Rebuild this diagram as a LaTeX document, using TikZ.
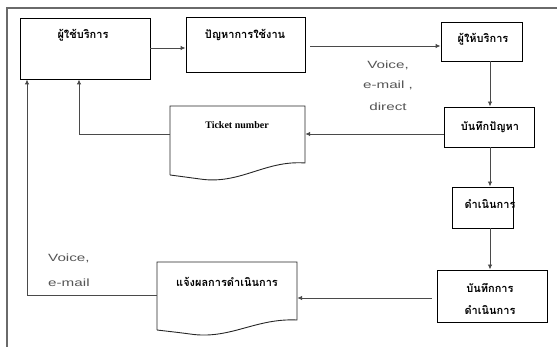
\documentclass[tikz,border=0pt]{standalone}
\usepackage{fontspec}
\setmainfont{Liberation Serif}
\newfontfamily\thaifont[Script=Thai]{Loma}
\newfontfamily\medfont[FakeStretch=1.45]{Liberation Sans}
\usetikzlibrary{arrows.meta,calc}

\definecolor{linegray}{HTML}{4A4A4A}
\definecolor{framegray}{HTML}{6A6A6A}
\definecolor{labelgray}{HTML}{555555}

\tikzset{
  box/.style={draw=black, line width=0.9pt, inner sep=0pt},
  doc/.style={inner sep=0pt},
  thai/.style={font=\thaifont\bfseries\fontsize{11}{13}\selectfont, inner sep=0pt},
  ticket/.style={font=\bfseries\fontsize{10}{12}\selectfont, inner sep=0pt},
  medium/.style={font=\medfont\fontsize{10.5}{12}\selectfont, text=labelgray, inner sep=0pt},
  flow/.style={draw=linegray, line width=0.9pt, -{Latex[length=5pt,width=4.5pt]}},
  docline/.style={draw=black!85, line width=0.9pt}
}

\begin{document}
\begin{tikzpicture}[x=1pt,y=-1pt]
\useasboundingbox (0,0) rectangle (557,347);

% open frame: top and left rule
\draw[framegray, line width=1.4pt] (557,8) -- (7,8) -- (7,347);

% process boxes
\node[box, minimum width=130pt, minimum height=61pt] (user) at (85,48.5) {};
\node[box, minimum width=119pt, minimum height=55pt] (prob) at (245.5,44.5) {};
\node[box, minimum width=81pt, minimum height=39pt] (prov) at (481.5,41.5) {};
\node[box, minimum width=90pt, minimum height=40pt] (rec) at (489,127) {};
\node[box, minimum width=61pt, minimum height=41pt] (act) at (482.5,207.5) {};
\node[box, minimum width=110pt, minimum height=52pt] (rec2) at (492,296) {};

% box texts
\node[thai] (tuser) at (83,35) {ผู้ใช้บริการ};
\node[thai] (tprob) at (245,35) {ปัญหาการใช้งาน};
\node[thai] (tprov) at (483,39) {ผู้ให้บริการ};
\node[thai] (trec) at (490,127) {บันทึกปัญหา};
\node[thai] (tact) at (490,204) {ดำเนินการ};
\node[thai] (trec2a) at (490,288) {บันทึกการ};
\node[thai] (trec2b) at (490,310) {ดำเนินการ};

% document shapes
\node[doc, minimum width=135pt, minimum height=69pt] (ticketdoc) at (237.5,140.5) {};
\draw[docline] (170,175) -- (170,106) -- (305,106) -- (305,163)
  .. controls (265,160) and (240,185) .. (200,179)
  .. controls (185,177) and (178,176) .. (170,175);
\node[ticket] (tticket) at (237,125) {Ticket number};

\node[doc, minimum width=140pt, minimum height=70pt] (notifydoc) at (227,297) {};
\draw[docline] (157,330) -- (157,262) -- (297,262) -- (297,320)
  .. controls (255,318) and (230,340) .. (190,334)
  .. controls (175,332) and (165,331) .. (157,330);
\node[thai] (tnotify) at (227,282) {แจ้งผลการดำเนินการ};

% connectors
\draw[flow] (user.east |- 0,48) -- (prob.west |- 0,48);
\draw[flow] ($(prob.east |- 0,46)+(5,0)$) -- (prov.west |- 0,46);
\draw[flow] (prov.south -| 490,0) -- (rec.north -| 490,0);
\draw[flow] (rec.west |- 0,134) -- (ticketdoc.east |- 0,134);
\draw[flow] (ticketdoc.west |- 0,134) -| (user.south -| 79,0);
\draw[flow] (rec.south -| 490,0) -- (act.north -| 490,0);
\draw[flow] (act.south -| 490,0) -- (rec2.north -| 490,0);
\draw[flow] ($(rec2.west |- 0,298)+(-5,0)$) -- (notifydoc.east |- 0,298);
\draw[flow] (notifydoc.west |- 0,295) -| (user.south -| 27,0);

% channel labels
\node[medium] (ch1) at (388,65) {Voice,};
\node[medium] (ch2) at (388,85) {e-mail ,};
\node[medium] (ch3) at (388,107) {direct};
\node[medium, anchor=west] (ch4) at (48,258) {Voice,};
\node[medium, anchor=west] (ch5) at (48,283) {e-mail};
\end{tikzpicture}
\end{document}
